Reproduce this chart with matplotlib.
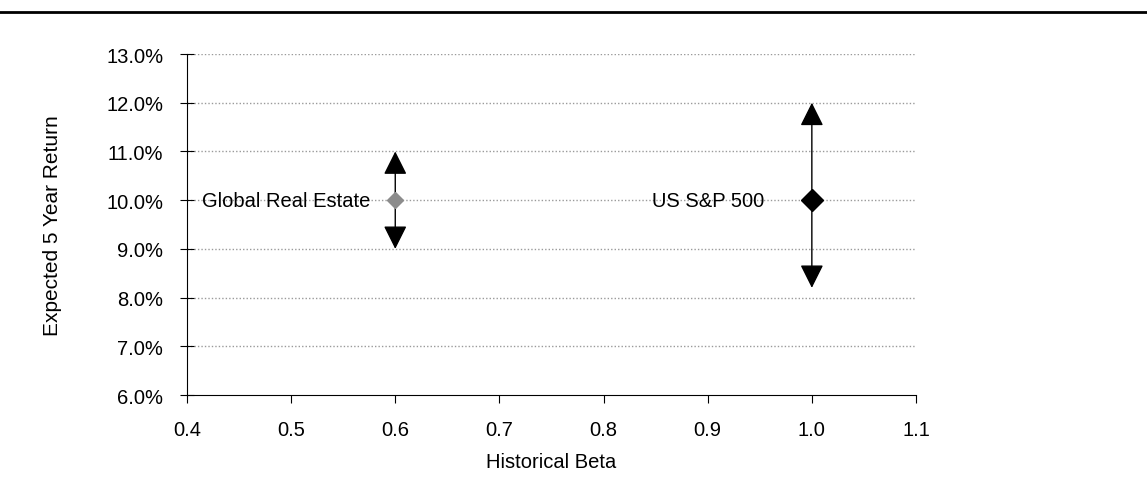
import matplotlib.pyplot as plt
from matplotlib.ticker import FuncFormatter

# chart data
names = ["Global Real Estate", "US S&P 500"]
beta = [0.6, 1.0]
exp_return = [10.0, 10.0]
ret_low = [9.0, 8.2]
ret_high = [11.0, 12.0]

# styling per point
marker_colors = ["#8c8c8c", "#000000"]
marker_sizes = [8, 11]
label_dx = [-0.024, -0.046]

plt.rcParams['font.family'] = ['Liberation Sans', 'DejaVu Sans']
FS = 14.5

fig = plt.figure(figsize=(11.47, 4.85), dpi=100)
ax = fig.add_axes([0.163, 0.1835, 0.6356, 0.703])

# dotted gridlines
for y in range(7, 14):
    ax.axhline(y, color="#9a9a9a", lw=1.0, ls=(0, (1, 1.5)), zorder=0)

# range arrows
for b, r, lo, hi in zip(beta, exp_return, ret_low, ret_high):
    for end in (lo, hi):
        ax.annotate("", xy=(b, end), xytext=(b, r),
                    arrowprops=dict(arrowstyle="-|>,head_length=1.0,head_width=0.5",
                                    mutation_scale=14.5, color="black", lw=1.0,
                                    shrinkA=0, shrinkB=0))

# diamonds and labels
for n, b, r, c, ms, dx in zip(names, beta, exp_return, marker_colors, marker_sizes, label_dx):
    ax.plot(b, r, marker="D", ms=ms, color=c, ls="none", zorder=5)
    ax.text(b + dx, r, n, ha="right", va="center", fontsize=FS)

ax.set_xlim(0.4, 1.1)
ax.set_ylim(6.0, 13.0)
ax.set_xticks([0.4, 0.5, 0.6, 0.7, 0.8, 0.9, 1.0, 1.1])
ax.set_yticks(range(6, 14))
ax.yaxis.set_major_formatter(FuncFormatter(lambda v, p: f"{v:.1f}%"))
ax.xaxis.set_major_formatter(FuncFormatter(lambda v, p: f"{v:.1f}"))
ax.tick_params(axis="x", direction="out", length=6, labelsize=FS, pad=12)
ax.tick_params(axis="y", direction="inout", length=10, labelsize=FS, pad=12)
ax.spines["top"].set_visible(False)
ax.spines["right"].set_visible(False)
ax.set_xlabel("Historical Beta", fontsize=FS, labelpad=9)
ax.set_ylabel("Expected 5 Year Return", fontsize=15, labelpad=32)

# rule across top of the page
fig.add_artist(plt.Line2D([0, 1], [0.973, 0.973], color="black", lw=2))

fig.savefig("out.png", dpi=100)
